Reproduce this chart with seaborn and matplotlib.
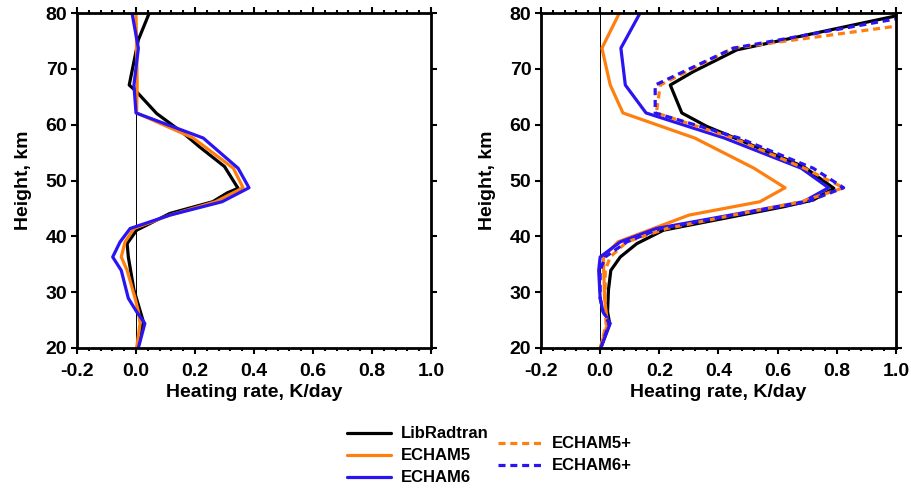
import numpy as np
import pandas as pd
import matplotlib
matplotlib.use("Agg")
import matplotlib.pyplot as plt
import seaborn as sns
from matplotlib.lines import Line2D
from matplotlib.ticker import MultipleLocator

sns.set_style("white")
plt.rcParams['font.family'] = ['Liberation Sans', 'DejaVu Sans']
plt.rcParams['font.weight'] = 'bold'
for k in ("text.color", "axes.labelcolor", "xtick.color", "ytick.color"):
    plt.rcParams[k] = "black"

# ---------------- data ----------------
# common model levels (km) for ECHAM series
heights = [20, 24.4, 26.5, 28.9, 33.9, 36.3, 39, 41.4, 43.8, 46.2, 48.7, 52.2, 57.6, 62.1, 67.1, 73.7, 80]

# Left panel
lib_left_h = [80, 75.2, 67.1, 65.9, 62, 58.5, 56, 52.5, 48.6, 47.8, 46.2, 44.1, 41.1, 38.7, 36.3, 30.4, 24.7, 20]
lib_left = [0.045, 0.008, -0.023, 0.002, 0.07, 0.16, 0.216, 0.30, 0.346, 0.31, 0.26, 0.115, 0.002, -0.03, -0.026, -0.007, 0.025, 0.005]
echam5_left = [0.002, 0.014, 0.008, -0.003, -0.03, -0.05, -0.037, -0.007, 0.115, 0.27, 0.363, 0.33, 0.194, 0.002, 0.004, 0.002, 0.0]
echam6_left = [0.008, 0.03, 0.002, -0.026, -0.05, -0.079, -0.054, -0.02, 0.115, 0.292, 0.383, 0.346, 0.228, 0.0, -0.007, 0.008, -0.0135]

# Right panel
lib_right_h = [80, 73.4, 69.5, 67.1, 62.1, 59.7, 52.5, 48.6, 46.5, 45.3, 41.1, 38.7, 36.3, 33.9, 30.4, 26.5, 24.4, 20]
lib_right = [1.046, 0.462, 0.315, 0.237, 0.276, 0.36, 0.687, 0.79, 0.72, 0.62, 0.214, 0.124, 0.068, 0.036, 0.028, 0.025, 0.032, 0.002]
echam5_right = [0.0, 0.025, 0.02, 0.015, 0.012, 0.011, 0.06, 0.18, 0.30, 0.54, 0.625, 0.52, 0.32, 0.077, 0.034, 0.006, 0.065]
echam6_right = [0.002, 0.034, 0.01, 0.0, -0.005, 0.0, 0.068, 0.19, 0.44, 0.687, 0.772, 0.68, 0.42, 0.155, 0.085, 0.07, 0.135]
echam5p_right = [0.002, 0.02, 0.018, 0.017, 0.017, 0.034, 0.09, 0.225, 0.45, 0.68, 0.823, 0.69, 0.45, 0.19, 0.203, 0.45, 1.33]
echam6p_right = [0.002, 0.03, 0.01, 0.0, 0.0, 0.017, 0.09, 0.203, 0.45, 0.70, 0.823, 0.72, 0.47, 0.186, 0.186, 0.45, 1.11]

x_ticks = [-0.2, 0.0, 0.2, 0.4, 0.6, 0.8, 1.0]
y_ticks = [20, 30, 40, 50, 60, 70, 80]

BLACK = "#000000"
ORANGE = "#ff7f0e"
BLUE = "#2a14f2"
LW = 2.3
DASH = (0, (2.2, 1.5))

fig = plt.figure(figsize=(9.12, 4.88), dpi=100)
axL = fig.add_axes([77/912, 1-348/488, 354/912, 335/488])
axR = fig.add_axes([541/912, 1-348/488, 355/912, 335/488])

def line(ax, x, y, color, dashed=False):
    sns.lineplot(x=x, y=y, ax=ax, color=color, lw=LW, sort=False, orient="y",
                 estimator=None, linestyle=DASH if dashed else "-")

for ax in (axL, axR):
    ax.axvline(0, color="black", lw=0.7, zorder=0)

line(axL, lib_left, lib_left_h, BLACK)
line(axL, echam5_left, heights, ORANGE)
line(axL, echam6_left, heights, BLUE)

line(axR, lib_right, lib_right_h, BLACK)
line(axR, echam5_right, heights, ORANGE)
line(axR, echam6_right, heights, BLUE)
line(axR, echam5p_right, heights, ORANGE, dashed=True)
line(axR, echam6p_right, heights, BLUE, dashed=True)

FS = 14
for ax in (axL, axR):
    ax.set_xlim(-0.2, 1.0)
    ax.set_ylim(20, 80)
    ax.set_xticks(x_ticks)
    ax.set_xticklabels([f"{t:.1f}" for t in x_ticks], fontsize=FS, fontweight="bold")
    ax.set_yticks(y_ticks)
    ax.set_yticklabels([str(t) for t in y_ticks], fontsize=FS, fontweight="bold")
    ax.xaxis.set_minor_locator(MultipleLocator(0.04))
    ax.tick_params(which="both", direction="out", top=True, right=True, left=True, bottom=True,
                   width=1.5, color="black")
    ax.tick_params(which="major", length=4, pad=3)
    ax.tick_params(which="minor", length=2)
    ax.tick_params(axis="x", which="major", pad=7)
    for s in ax.spines.values():
        s.set_linewidth(2)
        s.set_color("black")
    ax.set_xlabel("Heating rate, K/day", fontsize=FS, fontweight="bold", labelpad=3)
    ax.set_ylabel("Height, km", fontsize=FS, fontweight="bold", labelpad=10)

solid = [Line2D([], [], color=BLACK, lw=LW),
         Line2D([], [], color=ORANGE, lw=LW),
         Line2D([], [], color=BLUE, lw=LW)]
dashed = [Line2D([], [], color=ORANGE, lw=LW, linestyle=DASH),
          Line2D([], [], color=BLUE, lw=LW, linestyle=DASH)]
fig.legend(solid, ["LibRadtran", "ECHAM5", "ECHAM6"], loc="center",
           bbox_to_anchor=(418/912, 1-456/488), frameon=False,
           prop={"size": 12, "weight": "bold"}, handlelength=2.6,
           labelspacing=0.42, handletextpad=0.6)
fig.legend(dashed, ["ECHAM5+", "ECHAM6+"], loc="center",
           bbox_to_anchor=(565/912, 1-455/488), frameon=False,
           prop={"size": 12, "weight": "bold"}, handlelength=2.6,
           labelspacing=0.42, handletextpad=0.6)

fig.savefig("out.png", dpi=100)
